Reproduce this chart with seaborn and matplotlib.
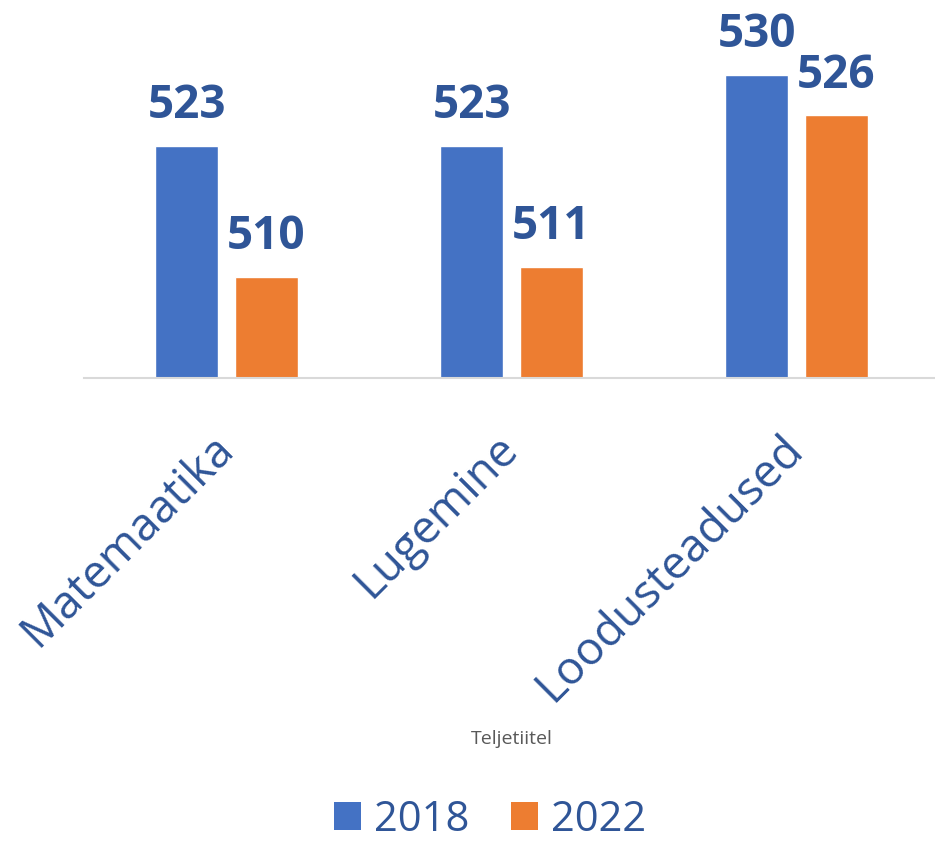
import matplotlib.pyplot as plt
import pandas as pd
import seaborn as sns
from matplotlib.patches import Patch

# andmed
subjects = ["Matemaatika", "Lugemine", "Loodusteadused"]
scores_2018 = [523, 523, 530]
scores_2022 = [510, 511, 526]
years = ["2018", "2022"]
colors = ["#4472C4", "#ED7D31"]
text_color = "#2F5597"

df = pd.DataFrame({
    "aine": subjects * 2,
    "aasta": [years[0]] * 3 + [years[1]] * 3,
    "punktid": scores_2018 + scores_2022,
})

sns.set_style("white")
plt.rcParams["font.family"] = ["Open Sans", "DejaVu Sans"]

fig = plt.figure(figsize=(9.35, 8.41), dpi=100)
ax = fig.add_axes([84 / 935, 1 - 378 / 841, 855 / 935, 378 / 841])

sns.barplot(data=df, x="aine", y="punktid", hue="aasta", palette=colors,
            saturation=1, width=0.56, gap=0.22, ax=ax, legend=False)

ax.set_ylim(500, 537.4)
ax.set_xlim(-0.5, 2.5)

for cont in ax.containers:
    ax.bar_label(cont, fmt="%d", padding=12, fontsize=33, fontweight="bold",
                 color=text_color)

for s in ["top", "right", "left"]:
    ax.spines[s].set_visible(False)
ax.spines["bottom"].set_color("#D9D9D9")
ax.spines["bottom"].set_linewidth(1.5)
ax.set_yticks([])
ax.set_ylabel("")
ax.tick_params(axis="x", length=0, pad=46)
ax.set_xticks(range(len(subjects)))
ax.set_xticklabels(subjects, rotation=45, ha="right", va="center",
                   rotation_mode="anchor", fontsize=33, color=text_color)
ax.set_xlabel("Teljetiitel", fontsize=14, color="#595959", labelpad=0)
ax.xaxis.set_label_coords(0.5, -0.93)

handles = [Patch(facecolor=c, edgecolor="none") for c in colors]
leg = fig.legend(handles, years, loc="center", bbox_to_anchor=(490 / 935, 1 - 820 / 841),
                 ncol=2, frameon=False, fontsize=30, handlelength=0.65,
                 handleheight=0.65, handletextpad=0.3, columnspacing=1.0)
for t in leg.get_texts():
    t.set_color(text_color)

fig.savefig("out.png", dpi=100)
